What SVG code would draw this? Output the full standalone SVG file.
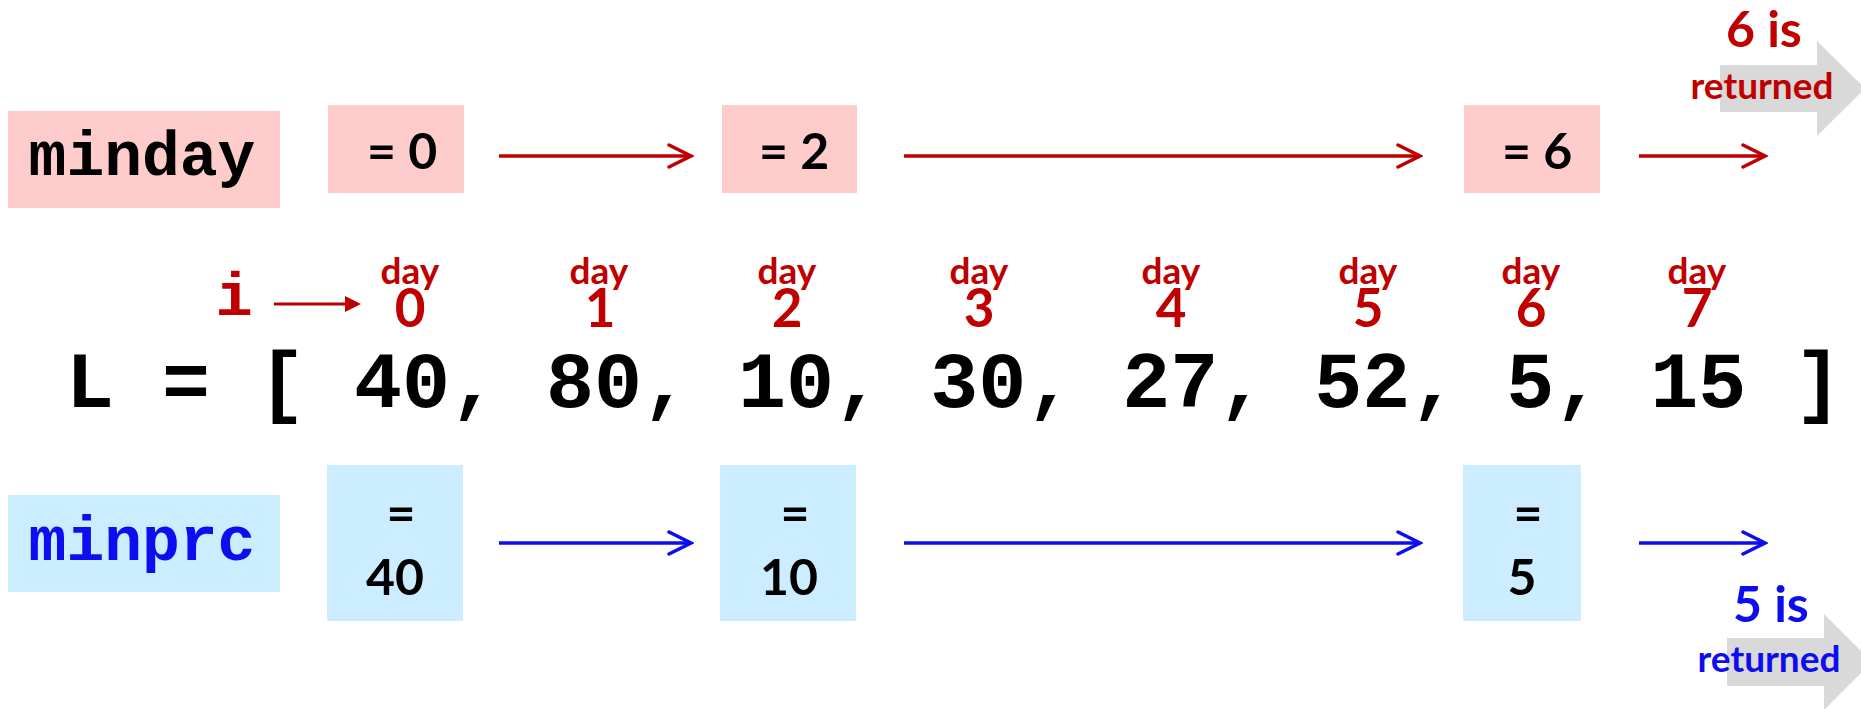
<svg xmlns="http://www.w3.org/2000/svg" width="1861" height="709" viewBox="0 0 1861 709">
<style>
.mono{font-family:"Liberation Mono","Courier New",monospace;font-weight:bold}
.sans{font-family:Lato,"Noto Sans","Liberation Sans",sans-serif;font-weight:bold}
.pink{fill:#ffcccc}
.blue{fill:#ccecff}
.red{fill:#c00000}
.bl{fill:#0d0def}
.k{fill:#000}
.rl{stroke:#c00000;stroke-width:3.5;fill:none}
.bll{stroke:#0d0def;stroke-width:3.5;fill:none}
.gray{fill:#d9d9d9}
</style>
<defs>
<marker id="ahr" viewBox="0 0 30 30" refX="27" refY="15" markerWidth="30" markerHeight="30" markerUnits="userSpaceOnUse" orient="auto">
<path d="M5 4 L27 15 L5 26" fill="none" stroke="#c00000" stroke-width="3.5" stroke-linecap="round" stroke-linejoin="miter"/>
</marker>
<marker id="ahb" viewBox="0 0 30 30" refX="27" refY="15" markerWidth="30" markerHeight="30" markerUnits="userSpaceOnUse" orient="auto">
<path d="M5 4 L27 15 L5 26" fill="none" stroke="#0d0def" stroke-width="3.5" stroke-linecap="round" stroke-linejoin="miter"/>
</marker>
</defs>

<g id="return-top">
<polygon class="gray" points="1720,65 1817,65 1817,41 1865,88.5 1817,136 1817,112 1720,112"/>
<text class="sans red" x="1726" y="47" font-size="50">6 is</text>
<text class="sans red" x="1762" y="99" font-size="37" text-anchor="middle">returned</text>
</g>

<g id="return-bottom">
<polygon class="gray" points="1727,638 1824,638 1824,614 1872,662 1824,710 1824,686 1727,686"/>
<text class="sans bl" x="1733" y="622" font-size="50">5 is</text>
<text class="sans bl" x="1769" y="672" font-size="37" text-anchor="middle">returned</text>
</g>

<g id="minday">
<rect class="pink" x="8" y="111" width="272" height="97"/>
<text class="mono k" x="142" y="175" font-size="63" text-anchor="middle">minday</text>
</g>
<g id="minday0">
<rect class="pink" x="328" y="105" width="136" height="88"/>
<text class="sans k" x="367" y="169" font-size="50">= 0</text>
</g>
<g id="minday2">
<rect class="pink" x="722" y="105" width="135" height="88"/>
<text class="sans k" x="759" y="169" font-size="50">= 2</text>
</g>
<g id="minday6">
<rect class="pink" x="1464" y="105" width="136" height="88"/>
<text class="sans k" x="1502" y="169" font-size="50">= 6</text>
</g>

<g id="minprc">
<rect class="blue" x="8" y="495" width="272" height="97"/>
<text class="mono bl" x="142" y="560" font-size="63" text-anchor="middle">minprc</text>
</g>
<g id="minprc40">
<rect class="blue" x="327" y="465" width="136" height="156"/>
<text class="sans k" x="401" y="531" font-size="50" text-anchor="middle">=</text>
<text class="sans k" x="395" y="595" font-size="50" text-anchor="middle">40</text>
</g>
<g id="minprc10">
<rect class="blue" x="720" y="465" width="136" height="156"/>
<text class="sans k" x="795" y="531" font-size="50" text-anchor="middle">=</text>
<text class="sans k" x="789" y="595" font-size="50" text-anchor="middle">10</text>
</g>
<g id="minprc5">
<rect class="blue" x="1463" y="465" width="118" height="156"/>
<text class="sans k" x="1528" y="531" font-size="50" text-anchor="middle">=</text>
<text class="sans k" x="1522" y="595" font-size="50" text-anchor="middle">5</text>
</g>

<g id="index-i">
<text class="mono red" x="234" y="315" font-size="62" text-anchor="middle">i</text>
</g>

<g id="days" class="sans red" text-anchor="middle">
<text x="410" y="284" font-size="37">day</text><text x="410" y="327" font-size="53">0</text>
<text x="599" y="284" font-size="37">day</text><text x="600" y="327" font-size="53">1</text>
<text x="787" y="284" font-size="37">day</text><text x="787" y="327" font-size="53">2</text>
<text x="979" y="284" font-size="37">day</text><text x="979" y="327" font-size="53">3</text>
<text x="1171" y="284" font-size="37">day</text><text x="1171" y="327" font-size="53">4</text>
<text x="1368" y="284" font-size="37">day</text><text x="1368" y="327" font-size="53">5</text>
<text x="1531" y="284" font-size="37">day</text><text x="1531" y="327" font-size="53">6</text>
<text x="1697" y="284" font-size="37">day</text><text x="1697" y="327" font-size="53">7</text>
</g>

<g id="list">
<text class="mono k" x="66" y="407" font-size="80" xml:space="preserve">L = [ 40, 80, 10, 30, 27, 52, 5, 15 ]</text>
</g>

<g id="connectors">
<line class="rl" x1="499" y1="156" x2="691" y2="156" marker-end="url(#ahr)"/>
<line class="rl" x1="904" y1="156" x2="1420" y2="156" marker-end="url(#ahr)"/>
<line class="rl" x1="1639" y1="156" x2="1765" y2="156" marker-end="url(#ahr)"/>
<line class="bll" x1="499" y1="543" x2="691" y2="543" marker-end="url(#ahb)"/>
<line class="bll" x1="904" y1="543" x2="1420" y2="543" marker-end="url(#ahb)"/>
<line class="bll" x1="1639" y1="543" x2="1765" y2="543" marker-end="url(#ahb)"/>
<line x1="274" y1="304" x2="347" y2="304" stroke="#c00000" stroke-width="3"/>
<polygon points="345,296 361,304 345,312" fill="#c00000"/>
</g>
</svg>
